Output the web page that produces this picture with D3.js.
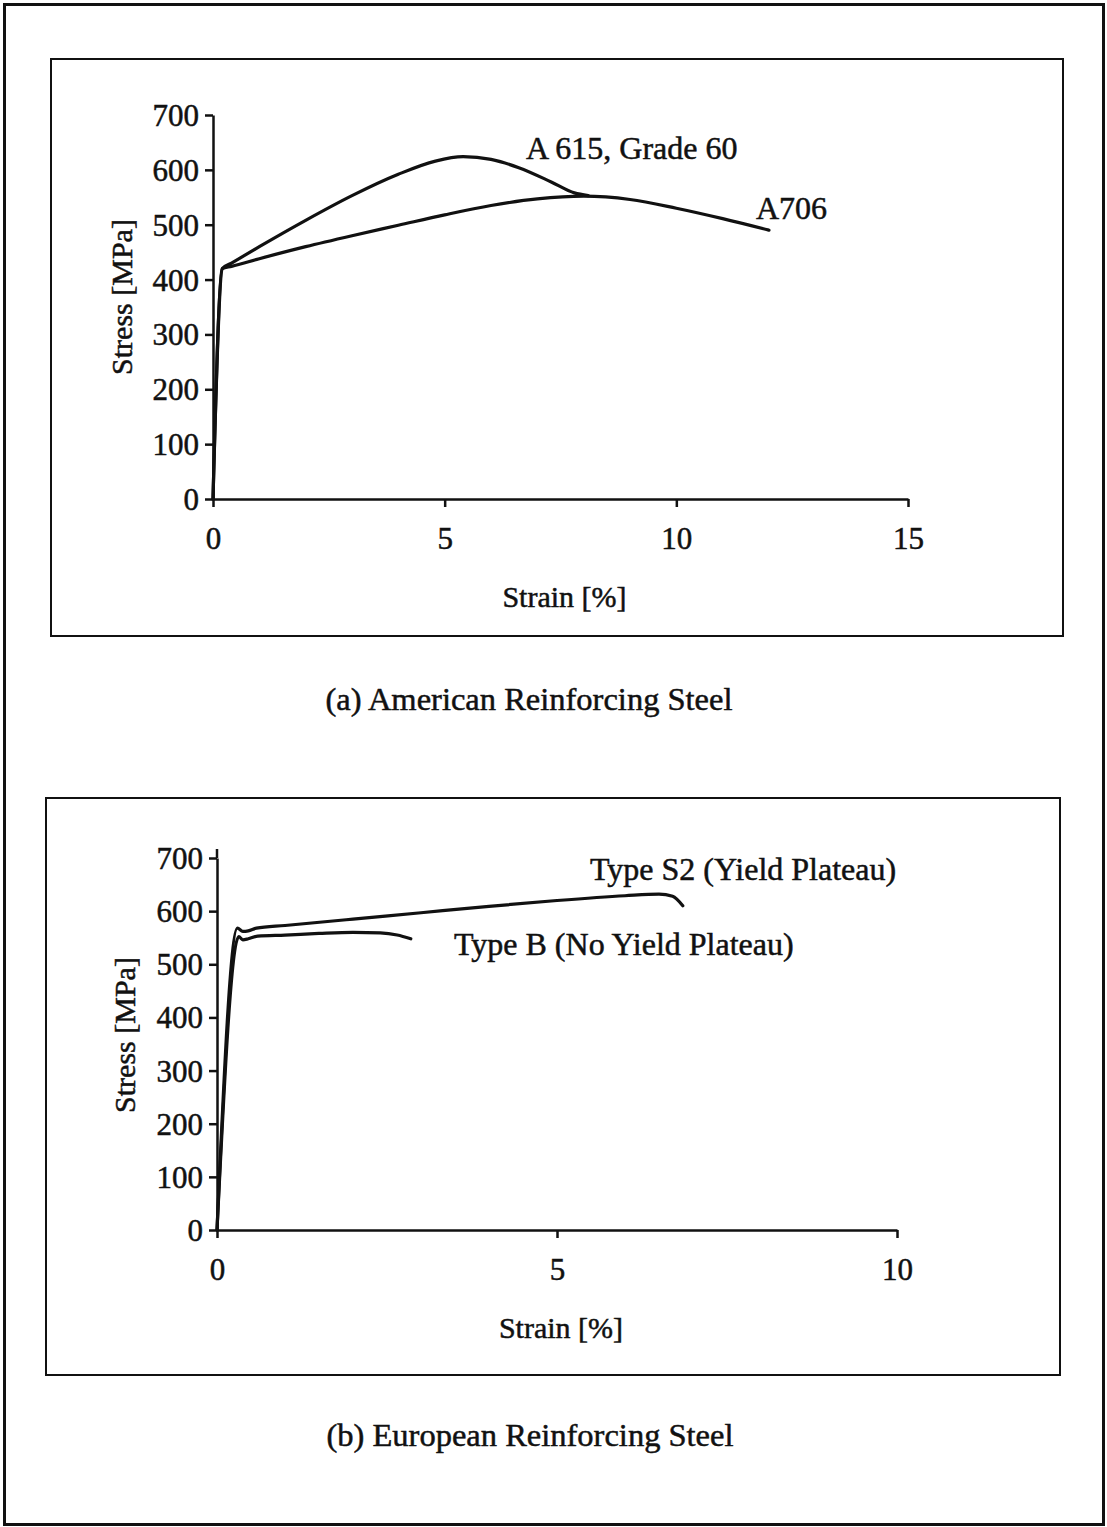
<!DOCTYPE html>
<html>
<head>
<meta charset="utf-8">
<script src="https://cdn.jsdelivr.net/npm/d3@7"></script>
<style>
  html, body { margin: 0; padding: 0; background: #fff; }
  svg text { font-family: "Liberation Serif", "Times New Roman", serif; fill: #111; stroke: #111; stroke-width: 0.5px; }
</style>
</head>
<body>
<svg id="fig" width="1107" height="1527"></svg>
<script>
// ---- data (strain in %, stress in MPa) ----
const stressTicks = [0, 100, 200, 300, 400, 500, 600, 700];
const strainTicksA = [0, 5, 10, 15];
const strainTicksB = [0, 5, 10];

const a615 = [[0, 0], [0.2, 420], [0.4, 430], [1, 460], [2, 508], [3, 553], [4, 592], [4.8, 616],
              [5.4, 624], [6.0, 619], [6.6, 604], [7.3, 578], [7.8, 558], [8.1, 553]];
const a706 = [[0, 0], [0.2, 420], [0.4, 424], [1, 438], [2, 460], [3, 480], [4, 499], [5, 518],
              [6, 535], [7, 547], [8, 552], [9, 546], [10, 530], [11, 511], [12, 490]];

const typeS2 = [[0, 0], [0.3, 568], [0.38, 562], [0.46, 563], [0.58, 568], [1, 573], [2, 585],
                [3, 597], [4, 609], [5, 620], [6, 629], [6.5, 632], [6.7, 628], [6.85, 610]];
const typeB = [[0, 0], [0.32, 552], [0.38, 546], [0.46, 548], [0.6, 553], [1, 555], [1.5, 558],
               [2, 560], [2.4, 559], [2.65, 555], [2.85, 548]];

const svg = d3.select("#fig");

// outer frame
svg.append("rect")
    .attr("x", 4.5).attr("y", 4.5)
    .attr("width", 1099).attr("height", 1520)
    .attr("fill", "none").attr("stroke", "#111").attr("stroke-width", 3);

function panel(opt) {
    const g = svg.append("g");

    g.append("rect")
        .attr("x", opt.box[0]).attr("y", opt.box[1])
        .attr("width", opt.box[2]).attr("height", opt.box[3])
        .attr("fill", "none").attr("stroke", "#111").attr("stroke-width", 2);

    const x = d3.scaleLinear().domain(opt.xDomain).range([opt.x0, opt.x1]);
    const y = d3.scaleLinear().domain([0, 700]).range([opt.y0, opt.y1]);

    // y axis
    const yAxis = g.append("g")
        .attr("transform", `translate(${opt.x0},0)`)
        .call(d3.axisLeft(y).tickValues(stressTicks).tickSize(8).tickPadding(6).tickSizeOuter(0));
    yAxis.select(".domain").attr("stroke-width", 2.5).attr("stroke", "#111");
    yAxis.selectAll(".tick line").attr("stroke-width", 2.5).attr("stroke", "#111");
    yAxis.selectAll(".tick text").attr("font-size", 31).attr("dy", "0.34em")
        .attr("font-family", "Liberation Serif, serif").attr("fill", "#111");

    // x axis
    const xAxis = g.append("g")
        .attr("transform", `translate(0,${opt.y0})`)
        .call(d3.axisBottom(x).tickValues(opt.xTicks).tickSize(8).tickPadding(20).tickSizeOuter(0));
    xAxis.select(".domain").attr("stroke-width", 2.5).attr("stroke", "#111");
    xAxis.selectAll(".tick line").attr("stroke-width", 2.5).attr("stroke", "#111");
    xAxis.selectAll(".tick text").attr("font-size", 31)
        .attr("font-family", "Liberation Serif, serif").attr("fill", "#111");

    if (opt.yExtra) {
        g.append("line")
            .attr("x1", opt.x0).attr("x2", opt.x0)
            .attr("y1", opt.y1).attr("y2", opt.y1 - opt.yExtra)
            .attr("stroke", "#111").attr("stroke-width", 2.5);
    }

    // axis titles
    g.append("text")
        .attr("x", (opt.x0 + opt.x1) / 2 + 4).attr("y", opt.y0 + 108)
        .attr("text-anchor", "middle").attr("font-size", 30)
        .text("Strain [%]");
    g.append("text")
        .attr("transform", `translate(${opt.yLabelX},${opt.yLabelY}) rotate(-90)`)
        .attr("text-anchor", "middle").attr("font-size", 30)
        .text("Stress [MPa]");

    const line = d3.line()
        .x(d => x(d[0])).y(d => y(d[1]))
        .curve(d3.curveMonotoneX);

    opt.series.forEach(s => {
        g.append("path")
            .datum(s.data)
            .attr("d", line)
            .attr("fill", "none")
            .attr("stroke", "#111")
            .attr("stroke-width", 3.2)
            .attr("stroke-linejoin", "round")
            .attr("stroke-linecap", "round");
        g.append("text")
            .attr("x", s.lx).attr("y", s.ly)
            .attr("font-size", 32)
            .text(s.name);
    });

    // caption
    g.append("text")
        .attr("x", opt.capX).attr("y", opt.capY)
        .attr("text-anchor", "middle").attr("font-size", 32.5)
        .text(opt.caption);
}

panel({
    box: [51, 59, 1012, 577],
    x0: 213, x1: 908, y0: 499, y1: 115,
    xDomain: [0, 15], xTicks: strainTicksA,
    yLabelX: 132, yLabelY: 297,
    series: [
        {name: "A 615, Grade 60", data: a615, lx: 526, ly: 159},
        {name: "A706", data: a706, lx: 756, ly: 219}
    ],
    caption: "(a) American Reinforcing Steel", capX: 529, capY: 710
});

panel({
    box: [46, 798, 1014, 577],
    x0: 217, x1: 897, y0: 1230, y1: 858,
    xDomain: [0, 10], xTicks: strainTicksB,
    yExtra: 9,
    yLabelX: 135, yLabelY: 1035,
    series: [
        {name: "Type S2 (Yield Plateau)", data: typeS2, lx: 590, ly: 880},
        {name: "Type B (No Yield Plateau)", data: typeB, lx: 454, ly: 955}
    ],
    caption: "(b) European Reinforcing Steel", capX: 530, capY: 1446
});
</script>
</body>
</html>
